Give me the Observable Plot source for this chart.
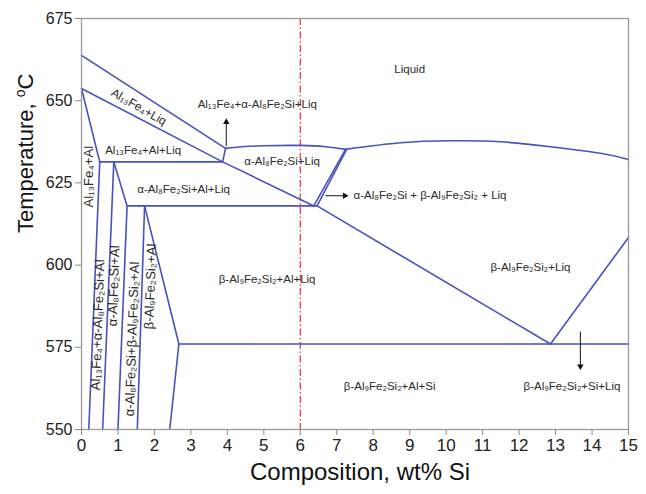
<!DOCTYPE html>
<html>
<head>
<meta charset="utf-8">
<script src="https://cdn.jsdelivr.net/npm/d3@7"></script>
<script src="https://cdn.jsdelivr.net/npm/@observablehq/plot@0.6"></script>
<style>
  html, body { margin: 0; padding: 0; background: #fff; }
  svg { display: block; }
</style>
</head>
<body>
<div id="chart"></div>
<script>
// ---- tick labels and titles ----
const xTicks = [0,1,2,3,4,5,6,7,8,9,10,11,12,13,14,15];
const yTicks = [550,575,600,625,650,675];
const xTitle = "Composition, wt% Si";
const yTitle = "Temperature, oC";
const alloyLine = [6];

// ---- phase boundaries (x = wt% Si, y = temperature °C) ----
const liqAl13Fe4Upper = [[0,663.8],[3.95,635.5]];
const liqAl13Fe4Lower = [[0,653.7],[3.87,631.4],[6.37,618]];
const peritecticLink  = [[3.95,635.5],[3.87,631.4]];
const liqAlpha        = [[3.95,635.5],[4.4,636.0],[5,636.3],[6,636.4],[6.7,636.0],[7.24,635.2]];
const liqBeta         = [[7.24,635.2],[8.75,637.2],[10.12,637.8],[11.49,637.5],[12.86,636.0],[14.23,634.0],[15,632.1]];
const ternaryA        = [[7.24,635.2],[6.37,618]];
const ternaryB        = [[7.27,635.2],[6.46,618]];
const iso631          = [[0.5,631.4],[3.87,631.4]];
const iso618          = [[1.25,618],[6.46,618]];
const iso576          = [[2.67,576],[15,576]];
const solvusAl        = [[0,653.7],[0.5,631.4],[0.2,550]];
const bound1          = [[0.886,631.4],[0.58,550]];
const bound2          = [[0.886,631.4],[1.25,618],[1.0,550]];
const bound3          = [[1.73,618],[1.53,550]];
const bound4          = [[1.73,618],[2.67,576],[2.42,550]];
const liqBetaLow      = [[6.46,618],[12.86,576]];
const liqSi           = [[12.86,576],[15,608.4]];

const straightLines = {liqAl13Fe4Upper, liqAl13Fe4Lower, peritecticLink, ternaryA, ternaryB,
  iso631, iso618, iso576, solvusAl, bound1, bound2, bound3, bound4, liqBetaLow, liqSi};
const curvedLines = {liqAlpha, liqBeta};

function toRows(obj) {
  const rows = [];
  for (const [id, pts] of Object.entries(obj)) for (const [x, y] of pts) rows.push({id, x, y});
  return rows;
}

// ---- labels ----
const fieldLabels = [
  {t: "Liquid", x: 9.0, y: 659.6},
  {t: "Al₁₃Fe₄+α-Al₈Fe₂Si+Liq", x: 4.82, y: 648.9},
  {t: "Al₁₃Fe₄+Al+Liq", x: 1.69, y: 635.0},
  {t: "α-Al₈Fe₂Si+Liq", x: 5.5, y: 631.6},
  {t: "α-Al₈Fe₂Si+Al+Liq", x: 2.8, y: 623.0},
  {t: "β-Al₉Fe₂Si₂+Al+Liq", x: 5.09, y: 595.7},
  {t: "β-Al₉Fe₂Si₂+Liq", x: 12.31, y: 599.3},
  {t: "β-Al₉Fe₂Si₂+Al+Si", x: 8.45, y: 563.0},
  {t: "β-Al₉Fe₂Si₂+Si+Liq", x: 13.45, y: 563.0}
];
const startLabels = [
  {t: "α-Al₈Fe₂Si + β-Al₉Fe₂Si₂ + Liq", x: 7.46, y: 621.1}
];
const slantLabels = [
  {t: "Al₁₃Fe₄+Liq", x: 1.57, y: 648.1, r: 30}
];
const verticalLabels = [
  {t: "Al₁₃Fe₄+Al", x: 0.2, y: 626.9, r: -90},
  {t: "Al₁₃Fe₄+α-Al₈Fe₂Si+Al", x: 0.45, y: 581.8, r: -88},
  {t: "α-Al₈Fe₂Si+Al", x: 0.886, y: 593.7, r: -88},
  {t: "α-Al₈Fe₂Si+β-Al₉Fe₂Si₂+Al", x: 1.39, y: 577.5, r: -88},
  {t: "β-Al₉Fe₂Si₂+Al", x: 1.89, y: 593.5, r: -88}
];

// ---- arrows ----
const arrows = [
  {x1: 3.97, y1: 636.2, x2: 3.97, y2: 643.5},
  {x1: 6.69, y1: 621.1, x2: 7.22, y2: 621.1},
  {x1: 13.68, y1: 579.8, x2: 13.68, y2: 569.2}
];
const arrowHeads = arrows.map(a => ({
  x: a.x2, y: a.y2,
  rot: a.x1 === a.x2 ? (a.y2 > a.y1 ? 0 : 180) : (a.x2 > a.x1 ? 90 : -90)
}));

const blue = "#4a50c2";
const labelColor = "#2a2a2a";

const chart = Plot.plot({
  width: 646,
  height: 494,
  marginLeft: 81,
  marginRight: 18,
  marginTop: 18,
  marginBottom: 65,
  style: {fontFamily: "'Liberation Sans', Arial, sans-serif", background: "#fff", color: "#222"},
  x: {domain: [0, 15]},
  y: {domain: [550, 675]},
  marks: [
    Plot.ruleX(alloyLine, {stroke: "#e8403a", strokeWidth: 1.3, strokeDasharray: "7,2.5,1.5,2.5"}),
    Plot.line(toRows(straightLines), {x: "x", y: "y", z: "id", stroke: blue, strokeWidth: 1.6}),
    Plot.line(toRows(curvedLines), {x: "x", y: "y", z: "id", stroke: blue, strokeWidth: 1.6, curve: "natural"}),
    Plot.link(arrows, {x1: "x1", y1: "y1", x2: "x2", y2: "y2", stroke: "#111", strokeWidth: 1}),
    Plot.dot(arrowHeads, {x: "x", y: "y", symbol: "triangle", r: 2.4, fill: "#111", rotate: "rot"}),
    Plot.text(fieldLabels, {x: "x", y: "y", text: "t", fontSize: 11.5, fill: labelColor}),
    Plot.text(startLabels, {x: "x", y: "y", text: "t", fontSize: 11.5, fill: labelColor, textAnchor: "start"}),
    Plot.text(slantLabels, {x: "x", y: "y", text: "t", rotate: "r", fontSize: 12, fill: labelColor}),
    Plot.text(verticalLabels, {x: "x", y: "y", text: "t", rotate: "r", fontSize: 13.2, fill: labelColor}),
    Plot.frame({stroke: "#9a9a9a", strokeWidth: 1.3}),
    Plot.axisX({ticks: xTicks, tickSize: 6, tickPadding: 3, fontSize: 17, label: null, tickFormat: d => String(d)}),
    Plot.axisY({ticks: yTicks, tickSize: 6, tickPadding: 3, fontSize: 16, label: null, tickFormat: d => String(d)}),
    Plot.text([xTitle], {frameAnchor: "bottom", text: d => d, dy: 50, dx: 5, fontSize: 24, fill: "#111"}),
    Plot.text([yTitle], {frameAnchor: "left", text: d => d, rotate: -90, dx: -56, dy: 9, fontSize: 22, fill: "#111"})
  ]
});

document.getElementById("chart").appendChild(chart);

const svg = d3.select(chart);
svg.selectAll('g[aria-label="x-axis tick"], g[aria-label="y-axis tick"]').attr("stroke", "#8a8a8a");
svg.selectAll("text").filter(function () { return this.textContent === yTitle; }).each(function () {
  const t = d3.select(this);
  t.text(null);
  t.append("tspan").text("Temperature, ");
  t.append("tspan").attr("font-size", "14px").attr("dy", "-8").text("o");
  t.append("tspan").attr("dy", "8").text("C");
});
</script>
</body>
</html>
